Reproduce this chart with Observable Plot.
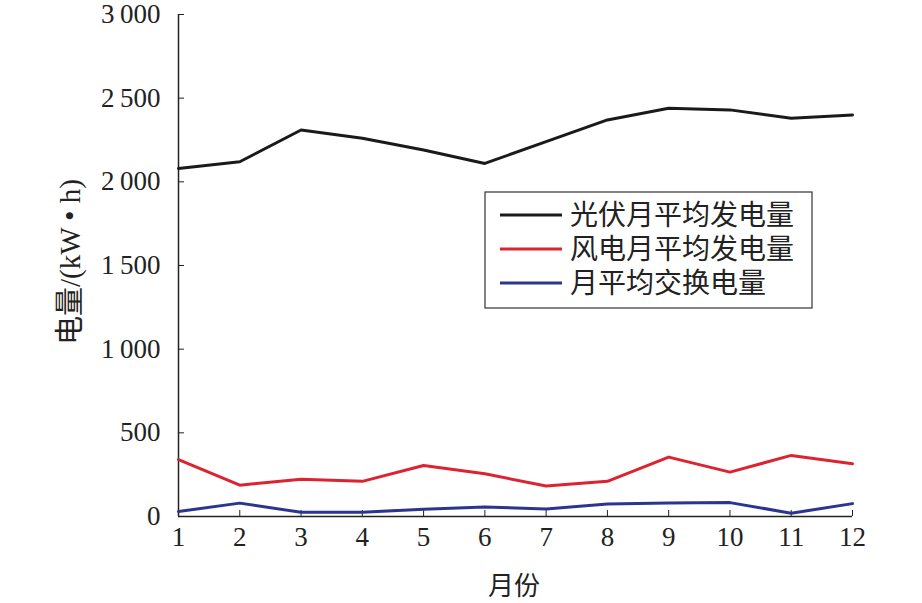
<!DOCTYPE html>
<html><head><meta charset="utf-8">
<script src="https://cdn.jsdelivr.net/npm/d3@7"></script>
<script src="https://cdn.jsdelivr.net/npm/@observablehq/plot@0.6"></script>
<style>
body{margin:0;background:#fff;}
#c{position:relative;width:922px;height:603px;}
</style></head><body><div id="c"></div>
<script>
const months = [1,2,3,4,5,6,7,8,9,10,11,12];
const pv = [2080,2120,2310,2260,2190,2110,2240,2370,2440,2430,2380,2400];
const wind = [340,187,223,210,305,255,182,210,355,265,365,315];
const exch = [30,80,25,25,44,57,45,75,80,83,20,77];
const seriesNames = ["光伏月平均发电量","风电月平均发电量","月平均交换电量"];
const seriesColors = ["#1a1a1a","#dc2431","#2b3590"];
const yTicks = [0,500,1000,1500,2000,2500,3000];

const all = [pv, wind, exch];
const data = [];
all.forEach((vals, s) => vals.forEach((v, i) => data.push({month: months[i], value: v, series: seriesNames[s]})));

const fmt = v => d3.format(",")(v).replace(/,/g, "\u2009");
const serif = "'Liberation Serif','Noto Sans CJK SC',serif";

const plot = Plot.plot({
  width: 922, height: 603,
  marginLeft: 178, marginRight: 70, marginTop: 14, marginBottom: 87,
  style: {fontFamily: serif, fontSize: "26px", color: "#222", background: "#fff"},
  x: {domain: [1, 12]},
  y: {domain: [0, 3000]},
  color: {domain: seriesNames, range: seriesColors},
  marks: [
    Plot.axisY({ticks: yTicks, tickFormat: fmt, tickSize: -6, tickPadding: 24, label: null, fontSize: 27}),
    Plot.axisX({ticks: months, tickFormat: d => d, tickSize: -6, tickPadding: 16, label: null, fontSize: 27}),
    Plot.ruleX([1], {stroke: "#222", strokeWidth: 1.5}),
    Plot.ruleY([0], {stroke: "#222", strokeWidth: 1.5}),
    Plot.line(data, {x: "month", y: "value", z: "series", stroke: "series", strokeWidth: 3})
  ]
});
const c = document.getElementById("c");
c.appendChild(plot);

const svg = d3.select(plot);
// axis titles
svg.append("text").attr("x", 514).attr("y", 595).attr("text-anchor", "middle")
  .style("font-family", serif).style("font-size", "26px").attr("fill", "#222").text("月份");
svg.append("text").attr("transform", "translate(80,262) rotate(-90)").attr("text-anchor", "middle")
  .style("font-family", serif).style("font-size", "29px").attr("fill", "#222").text("电量/(kW • h)");

// legend
const lg = svg.append("g").attr("text-anchor", "start");
lg.append("rect").attr("x", 485).attr("y", 192).attr("width", 327).attr("height", 116)
  .attr("fill", "#fff").attr("stroke", "#333").attr("stroke-width", 1.2);
seriesNames.forEach((n, i) => {
  const y = 215 + i * 34;
  lg.append("line").attr("x1", 500).attr("x2", 562).attr("y1", y).attr("y2", y)
    .attr("stroke", seriesColors[i]).attr("stroke-width", 3);
  lg.append("text").attr("x", 570).attr("y", y).attr("dy", "0.35em").attr("text-anchor", "start")
    .style("font-family", serif).style("font-size", "28px").attr("fill", "#222").text(n);
});
</script></body></html>
